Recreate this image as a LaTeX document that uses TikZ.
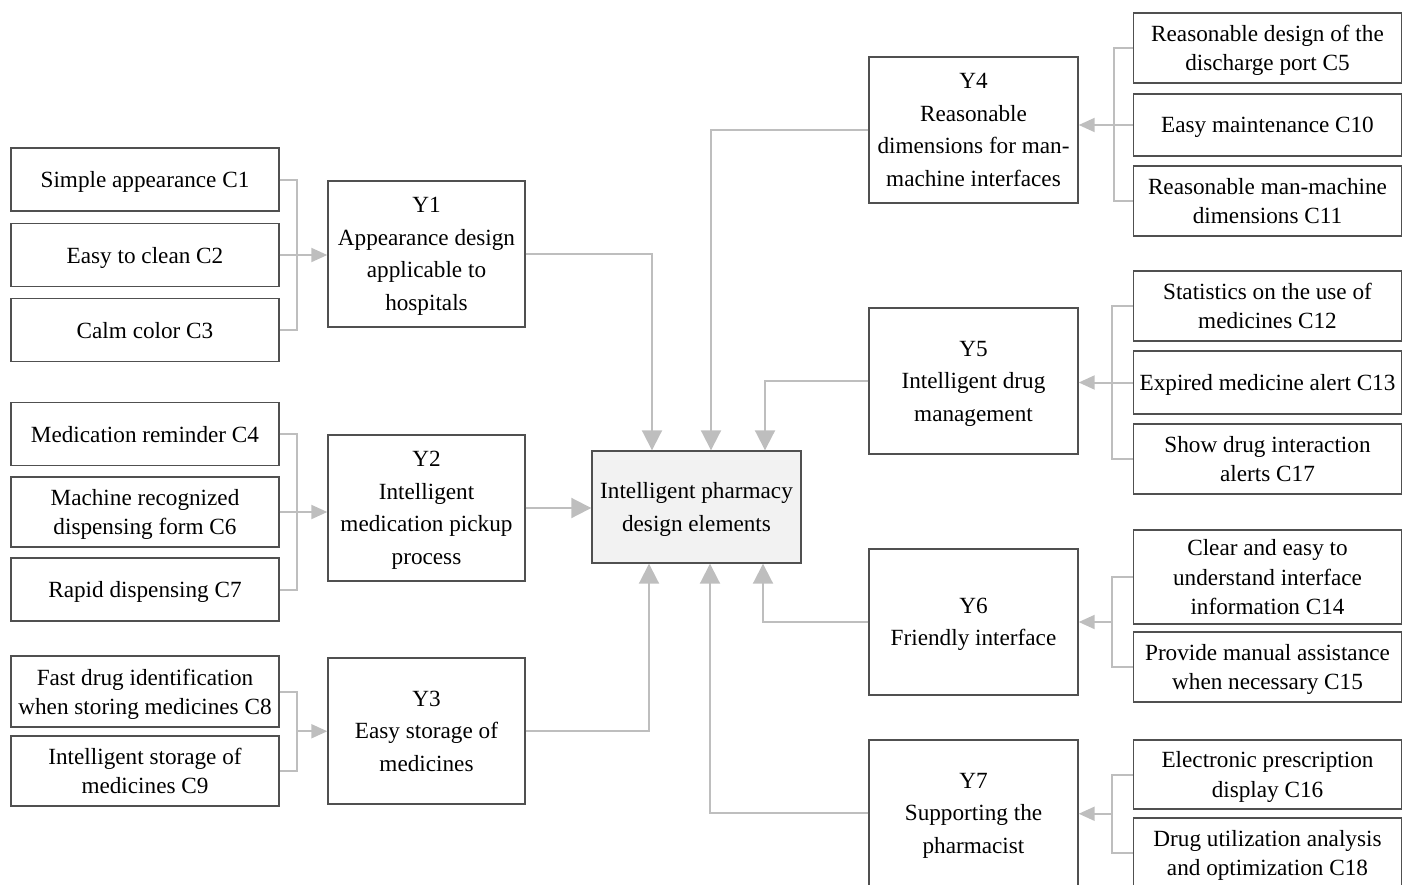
\documentclass[tikz,border=0pt]{standalone}
\usepackage{fontspec}
\setmainfont{Liberation Serif}
\usetikzlibrary{arrows.meta}

\definecolor{boxline}{RGB}{80,80,80}
\definecolor{linkgray}{RGB}{190,190,190}
\definecolor{mainfill}{RGB}{242,242,242}

\tikzset{
  cbox/.style={draw=boxline, line width=0.7pt, minimum width=134pt, minimum height=#1,
    inner sep=1pt, text depth=0pt, align=center, font=\fontsize{11.6}{14.6}\selectfont},
  cbox/.default=31.5pt,
  ybox/.style={draw=boxline, line width=0.7pt, minimum width=#1, minimum height=73pt,
    inner sep=1pt, text depth=0pt, align=center, font=\fontsize{11.6}{16.3}\selectfont},
  ybox/.default=98.5pt,
  mainbox/.style={draw=boxline, line width=0.7pt, fill=mainfill, minimum width=104.5pt,
    minimum height=56pt, inner sep=1pt, text depth=0pt, align=center,
    font=\fontsize{11.6}{16.5}\selectfont},
  link/.style={draw=linkgray, line width=1pt},
  arr/.style={link, -{Triangle[length=10pt,width=10pt]}},
  sarr/.style={link, -{Triangle[length=8pt,width=7pt]}}
}

\begin{document}
\begin{tikzpicture}[x=0.5pt, y=-0.5pt]
	\useasboundingbox (0,0) rectangle (1403,884);
	\clip (0,0) rectangle (1403,884);
	% Left criteria:
	\node[cbox] (c1) at (145,179.5) {Simple appearance C1};
	\node[cbox] (c2) at (145,255) {Easy to clean C2};
	\node[cbox] (c3) at (145,330) {Calm color C3};
	\node[cbox] (c4) at (145,434) {Medication reminder C4};
	\node[cbox=35pt] (c6) at (145,512) {Machine recognized\\dispensing form C6};
	\node[cbox] (c7) at (145,589.5) {Rapid dispensing C7};
	\node[cbox=35.5pt] (c8) at (145,691.5) {Fast drug identification\\when storing medicines C8};
	\node[cbox=35pt] (c9) at (145,771) {Intelligent storage of\\medicines C9};
	% Left elements:
	\node[ybox] (y1) at (426.5,254) {Y1\\Appearance design\\applicable to\\hospitals};
	\node[ybox] (y2) at (426.5,508) {Y2\\Intelligent\\medication pickup\\process};
	\node[ybox] (y3) at (426.5,731) {Y3\\Easy storage of\\medicines};
	% Centre:
	\node[mainbox] (main) at (696.5,507) {Intelligent pharmacy\\design elements};
	% Right elements:
	\node[ybox=104.5pt] (y4) at (973.5,130) {Y4\\Reasonable\\dimensions for man-\\machine interfaces};
	\node[ybox=104.5pt] (y5) at (973.5,381) {Y5\\Intelligent drug\\management};
	\node[ybox=104.5pt] (y6) at (973.5,622) {Y6\\Friendly interface};
	\node[ybox=104.5pt] (y7) at (973.5,813) {Y7\\Supporting the\\pharmacist};
	% Right criteria:
	\node[cbox=35pt] (c5) at (1267.5,48) {Reasonable design of the\\discharge port C5};
	\node[cbox=31pt] (c10) at (1267.5,125) {Easy maintenance C10};
	\node[cbox=35pt] (c11) at (1267.5,201) {Reasonable man-machine\\dimensions C11};
	\node[cbox=35pt] (c12) at (1267.5,306) {Statistics on the use of\\medicines C12};
	\node[cbox] (c13) at (1267.5,382.5) {Expired medicine alert C13};
	\node[cbox=35pt] (c17) at (1267.5,459) {Show drug interaction\\alerts C17};
	\node[cbox=47pt] (c14) at (1267.5,577) {Clear and easy to\\understand interface\\information C14};
	\node[cbox=35pt] (c15) at (1267.5,667) {Provide manual assistance\\when necessary C15};
	\node[cbox=34.5pt] (c16) at (1267.5,774.5) {Electronic prescription\\display C16};
	\node[cbox=35pt] (c18) at (1267.5,853) {Drug utilization analysis\\and optimization C18};
	% Brackets on the left:
	\draw[link] (c1.east) -- ++(17,0) |- (c3.east);
	\draw[sarr] (c2.east) -- (c2.east -| y1.west);
	\draw[link] (c4.east) -- ++(17,0) |- (c7.east);
	\draw[sarr] (c6.east) -- (c6.east -| y2.west);
	\draw[link] (c8.east) -- ++(17,0) |- (c9.east) coordinate[pos=0.25] (g3);
	\draw[sarr] (g3) -- (g3 -| y3.west);
	% Brackets on the right:
	\draw[link] (c5.west) -- ++(-19,0) |- (c11.west);
	\draw[sarr] (c10.west) -- (c10.west -| y4.east);
	\draw[link] (c12.west) -- ++(-21,0) |- (c17.west);
	\draw[sarr] (c13.west) -- (c13.west -| y5.east);
	\draw[link] (c14.west) -- ++(-21,0) |- (c15.west) coordinate[pos=0.25] (g6);
	\draw[sarr] (g6) -- (g6 -| y6.east);
	\draw[link] (c16.west) -- ++(-21,0) |- (c18.west) coordinate[pos=0.25] (g7);
	\draw[sarr] (g7) -- (g7 -| y7.east);
	% Into the centre:
	\draw[arr] (y1.east) -| ([xshift=-22.25pt]main.north);
	\draw[arr] (y4.west) -| ([xshift=7.25pt]main.north);
	\draw[arr] (y5.west) -| ([xshift=34.25pt]main.north);
	\draw[arr] (y2.east) -- (y2.east -| main.west);
	\draw[arr] (y3.east) -| ([xshift=-23.75pt]main.south);
	\draw[arr] (y7.west) -| ([xshift=6.75pt]main.south);
	\draw[arr] (y6.west) -| ([xshift=33.25pt]main.south);
\end{tikzpicture}
\end{document}
